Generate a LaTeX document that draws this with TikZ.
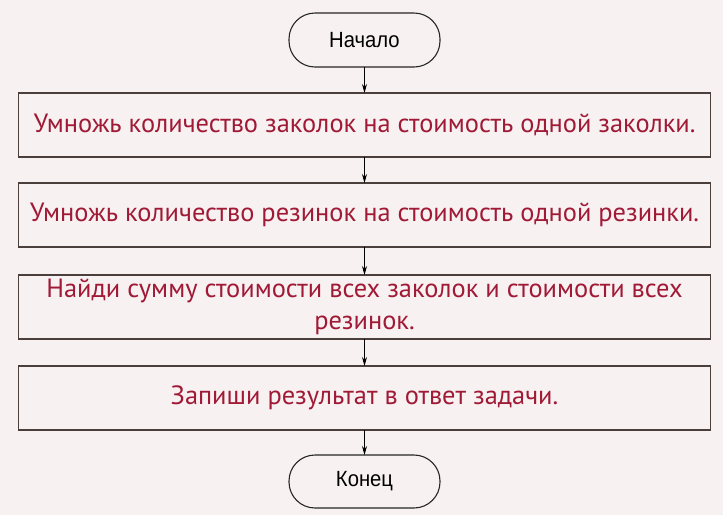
\documentclass[tikz,border=0pt]{standalone}
\usepackage{fontspec}
\setmainfont{PT Sans}
\newfontfamily\termfont[FakeStretch=0.92]{Liberation Sans}
\usetikzlibrary{positioning,arrows.meta}

\definecolor{taskred}{HTML}{A01A36}
\definecolor{frame}{HTML}{4A3F3A}
\definecolor{paper}{HTML}{F7F1F2}

\tikzstyle{startstop} = [rectangle, draw=black!85, line width=1.1pt, outer sep=0pt, rounded corners=26pt, minimum width=151pt, minimum height=54pt, font=\termfont\fontsize{22}{24}\selectfont]
\tikzstyle{block} = [rectangle, draw=frame, line width=1.3pt, outer sep=0pt, minimum width=692pt, minimum height=64pt, inner ysep=1pt, align=center, text=taskred, font=\fontsize{26.4}{32}\selectfont]
\tikzstyle{arrow} = [line width=0.8pt,->,>={Stealth[length=9pt,width=5pt]}]

\begin{document}
\begin{tikzpicture}[x=1pt, y=-1pt, node distance=27pt]
\fill [paper] (0,0) rectangle (723,515);
\node (start) [startstop] at (364.5,40) {Начало};
\node (multPins) [block, below=26pt of start] {Умножь количество заколок на стоимость одной заколки.};
\node (multBands) [block, below=26pt of multPins] {Умножь количество резинок на стоимость одной резинки.};
\node (addSum) [block, below=28pt of multBands] {Найди сумму стоимости всех заколок и стоимости всех\\резинок.};
\node (writeAnswer) [block, below=of addSum] {Запиши результат в ответ задачи.};
\node (stop) [startstop, below=25pt of writeAnswer, minimum height=53pt] {Конец};

\draw [arrow] (start) -- (multPins);
\draw [arrow] (multPins) -- (multBands);
\draw [arrow] (multBands) -- (addSum);
\draw [arrow] (addSum) -- (writeAnswer);
\draw [arrow] (writeAnswer) -- (stop);
\end{tikzpicture}
\end{document}
